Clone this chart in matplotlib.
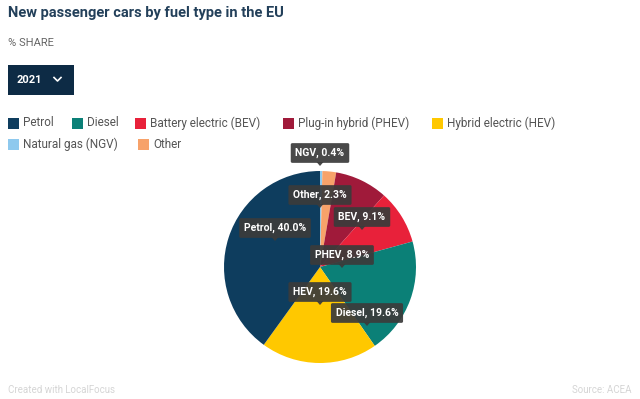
import matplotlib
matplotlib.use("Agg")
import matplotlib.pyplot as plt
from matplotlib.patches import Rectangle, FancyBboxPatch, Polygon

# ---- data ----
legend_names = ["Petrol", "Diesel", "Battery electric (BEV)", "Plug-in hybrid (PHEV)",
                "Hybrid electric (HEV)", "Natural gas (NGV)", "Other"]
short_names = ["Petrol", "Diesel", "BEV", "PHEV", "HEV", "NGV", "Other"]
shares = [40.0, 19.6, 9.1, 8.9, 19.6, 0.4, 2.3]
colors = ["#0e3d5e", "#0b8077", "#e8213a", "#a01a3a", "#ffc800", "#8ec9ee", "#f7a26a"]
# drawing order of the pie (clockwise from 12 o'clock)
pie_order = ["NGV", "Other", "PHEV", "BEV", "Diesel", "HEV", "Petrol"]
year = "2021"

W, H = 640, 399
fig = plt.figure(figsize=(6.4, 3.99), dpi=100)
fig.patch.set_facecolor("white")

# overlay axes in pixel coordinates
ov = fig.add_axes([0, 0, 1, 1])
ov.set_xlim(0, W)
ov.set_ylim(H, 0)
ov.axis("off")

FONT = "Roboto"

ov.text(8, 13, "New passenger cars by fuel type in the EU", fontsize=10.5, fontweight="bold",
        color="#23405a", family=FONT, va="center", ha="left")
ov.text(8, 43, "% SHARE", fontsize=8, color="#666666", family=FONT, va="center", ha="left")

# dropdown
ov.add_patch(Rectangle((8, 65), 66, 30, facecolor="#0d2b45", edgecolor="none"))
ov.text(17, 80, year, fontsize=8, fontweight="bold", color="white", family=FONT,
        va="center", ha="left")
ov.plot([54, 57.5, 61], [77.5, 81, 77.5], color="white", lw=1.2)

# legend
leg_pos = [(8, 123), (72, 123), (135, 123), (283, 123), (432, 123), (8, 144), (138, 144)]
for (x, y), name, c in zip(leg_pos, legend_names, colors):
    ov.add_patch(Rectangle((x, y - 5.5), 11, 11, facecolor=c, edgecolor="none"))
    ov.text(x + 15, y, name, fontsize=8.5, color="#555555", family=FONT, va="center", ha="left")

# footer
ov.text(8, 390, "Created with LocalFocus", fontsize=7, color="#d5d5d5", family=FONT,
        va="center", ha="left")
ov.text(632, 390, "Source: ACEA", fontsize=7, color="#d5d5d5", family=FONT,
        va="center", ha="right")

# pie
cx, cy, r = 320, 267, 96
pax = fig.add_axes([(cx - r) / W, (H - (cy + r)) / H, 2 * r / W, 2 * r / H])
idx = [short_names.index(n) for n in pie_order]
pax.pie([shares[i] for i in idx], colors=[colors[i] for i in idx], startangle=90,
        counterclock=False, wedgeprops=dict(linewidth=0))
pax.set_aspect("auto")
pax.set_xlim(-1, 1)
pax.set_ylim(-1, 1)

# labels (tooltip-like boxes)
label_pos = {"NGV": (320, 153), "Other": (320, 195), "BEV": (362, 217), "Petrol": (275, 228),
             "PHEV": (342, 255), "HEV": (320, 292), "Diesel": (367, 313)}
ov.set_zorder(5)
ov.patch.set_alpha(0)
for n in pie_order:
    i = short_names.index(n)
    x, y = label_pos[n]
    t = ov.text(x, y, f"{n}, {shares[i]:.1f}%", fontsize=7.5, fontweight="bold", color="white",
                family=FONT, va="center", ha="center",
                bbox=dict(boxstyle="round,pad=0.45,rounding_size=0.15", facecolor="#3b3b3b",
                          edgecolor="none", alpha=0.93))
    ov.add_patch(Polygon([(x - 3.5, y + 9), (x + 3.5, y + 9), (x, y + 13)], closed=True,
                         facecolor="#3b3b3b", edgecolor="none", alpha=0.93))

fig.savefig("out.png", dpi=100, facecolor="white")
